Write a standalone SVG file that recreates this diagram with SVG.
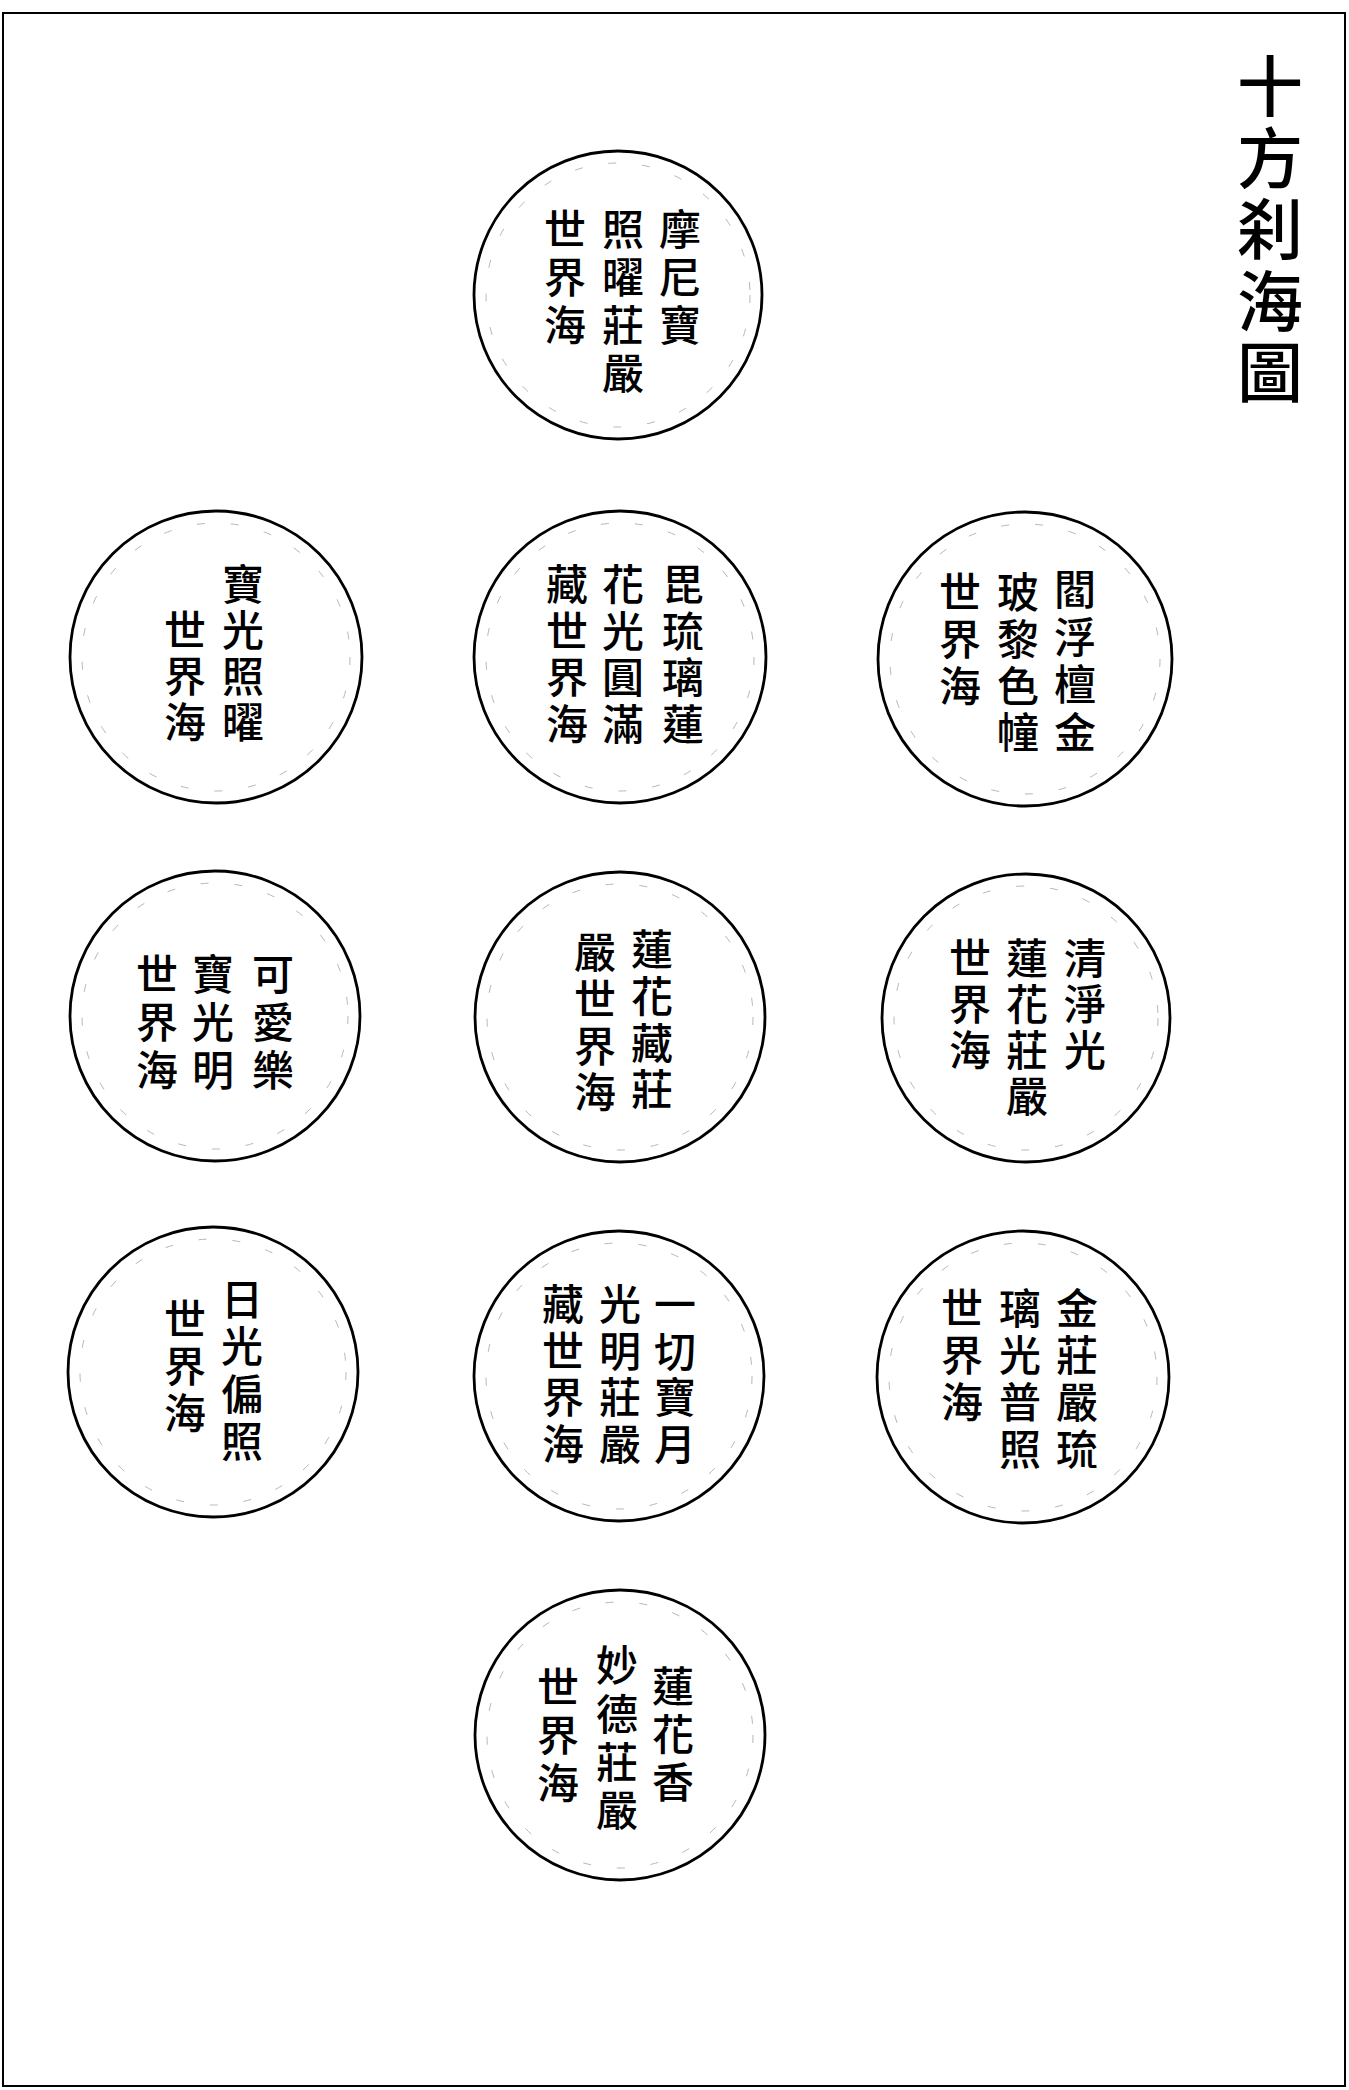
<svg xmlns="http://www.w3.org/2000/svg" width="1349" height="2090" viewBox="0 0 1349 2090">
<style>
.bg{fill:#fff}
.frame{fill:none;stroke:#000;stroke-width:2}
.ring{fill:#fff;stroke:#000;stroke-width:2.8}
.inner{fill:none;stroke:#b8b8b8;stroke-width:1;stroke-dasharray:8 26}
.t{font-family:"Noto Sans CJK TC","Noto Sans CJK SC",sans-serif;font-size:42px;font-weight:500;fill:#000;text-anchor:middle}
.title{font-family:"Noto Sans CJK TC","Noto Sans CJK SC",sans-serif;font-size:66px;font-weight:500;fill:#000;text-anchor:middle}
</style>
<rect class="bg" x="0" y="0" width="1349" height="2090"/>
<rect class="frame" x="3" y="13" width="1342" height="2073"/>
<g id="title">
<text class="title" x="1270 1270 1270 1270 1270" y="111 183 254 326 397">十方刹海圖</text>
</g>
<g id="connectors"></g>
<g id="n-moni">
<circle class="ring" cx="618" cy="295" r="144"/>
<circle class="inner" cx="618" cy="295" r="132"/>
<text class="t" x="680 680 680" y="245 293 341">摩尼寶</text>
<text class="t" x="623 623 623 623" y="245 293 341 389">照曜莊嚴</text>
<text class="t" x="565 565 565" y="245 293 341">世界海</text>
</g>
<g id="n-baoguang">
<circle class="ring" cx="216" cy="657" r="146"/>
<circle class="inner" cx="216" cy="657" r="134"/>
<text class="t" x="243 243 243 243" y="600 646 692 738">寶光照曜</text>
<text class="t" x="185 185 185" y="646 692 738">世界海</text>
</g>
<g id="n-piliu">
<circle class="ring" cx="620" cy="657" r="146"/>
<circle class="inner" cx="620" cy="657" r="134"/>
<text class="t" x="683 683 683 683" y="600 647 693 740">毘琉璃蓮</text>
<text class="t" x="623 623 623 623" y="600 647 693 740">花光圓滿</text>
<text class="t" x="567 567 567 567" y="600 647 693 740">藏世界海</text>
</g>
<g id="n-yanfu">
<circle class="ring" cx="1025" cy="659" r="147"/>
<circle class="inner" cx="1025" cy="659" r="135"/>
<text class="t" x="1075 1075 1075 1075" y="605 653 700 748">閻浮檀金</text>
<text class="t" x="1018 1018 1018 1018" y="608 655 702 748">玻黎色幢</text>
<text class="t" x="960 960 960" y="608 655 702">世界海</text>
</g>
<g id="n-keai">
<circle class="ring" cx="215" cy="1016" r="145"/>
<circle class="inner" cx="215" cy="1016" r="133"/>
<text class="t" x="273 273 273" y="990 1038 1086">可愛樂</text>
<text class="t" x="213 213 213" y="990 1038 1086">寶光明</text>
<text class="t" x="157 157 157" y="990 1038 1086">世界海</text>
</g>
<g id="n-lianhuazang">
<circle class="ring" cx="620" cy="1017" r="145"/>
<circle class="inner" cx="620" cy="1017" r="133"/>
<text class="t" x="652 652 652 652" y="965 1012 1059 1105">蓮花藏莊</text>
<text class="t" x="595 595 595 595" y="968 1015 1062 1108">嚴世界海</text>
</g>
<g id="n-qingjing">
<circle class="ring" cx="1026" cy="1018" r="144"/>
<circle class="inner" cx="1026" cy="1018" r="132"/>
<text class="t" x="1085 1085 1085" y="974 1020 1066">清淨光</text>
<text class="t" x="1027 1027 1027 1027" y="974 1020 1066 1112">蓮花莊嚴</text>
<text class="t" x="970 970 970" y="974 1020 1066">世界海</text>
</g>
<g id="n-riguang">
<circle class="ring" cx="213" cy="1372" r="145"/>
<circle class="inner" cx="213" cy="1372" r="133"/>
<text class="t" x="242 242 242 242" y="1315 1362 1410 1457">日光偏照</text>
<text class="t" x="185 185 185" y="1335 1382 1429">世界海</text>
</g>
<g id="n-yiqie">
<circle class="ring" cx="619" cy="1376" r="145"/>
<circle class="inner" cx="619" cy="1376" r="133"/>
<text class="t" x="675 675 675 675" y="1320 1367 1413 1460">一切寶月</text>
<text class="t" x="620 620 620 620" y="1320 1367 1413 1460">光明莊嚴</text>
<text class="t" x="563 563 563 563" y="1320 1367 1413 1460">藏世界海</text>
</g>
<g id="n-jinzhuang">
<circle class="ring" cx="1023" cy="1377" r="146"/>
<circle class="inner" cx="1023" cy="1377" r="134"/>
<text class="t" x="1077 1077 1077 1077" y="1324 1371 1418 1465">金莊嚴琉</text>
<text class="t" x="1020 1020 1020 1020" y="1324 1371 1418 1465">璃光普照</text>
<text class="t" x="962 962 962" y="1324 1371 1418">世界海</text>
</g>
<g id="n-lianhuaxiang">
<circle class="ring" cx="620" cy="1735" r="145"/>
<circle class="inner" cx="620" cy="1735" r="133"/>
<text class="t" x="673 673 673" y="1702 1750 1798">蓮花香</text>
<text class="t" x="617 617 617 617" y="1681 1730 1778 1826">妙德莊嚴</text>
<text class="t" x="558 558 558" y="1703 1751 1799">世界海</text>
</g>
</svg>
